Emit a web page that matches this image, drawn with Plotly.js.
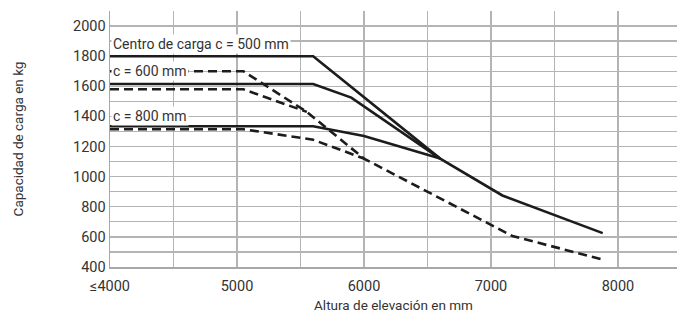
<!DOCTYPE html>
<html>
<head>
<meta charset="utf-8">
<script src="https://cdn.plot.ly/plotly-3.0.1.min.js"></script>
<style>
  html, body { margin: 0; padding: 0; background: #fff; }
  #chart { width: 677px; height: 316px; }
</style>
</head>
<body>
<div id="chart"></div>
<script>
// ---- Data ----
// Solid lines
const solid500X = [4000, 5600, 6600, 7090, 7880];
const solid500Y = [1800, 1800, 1120, 875, 625];

const solid600X = [4000, 5600, 5900, 6600];
const solid600Y = [1615, 1615, 1525, 1120];

const solid800X = [4000, 5600, 6000, 6600];
const solid800Y = [1335, 1335, 1270, 1120];

// Dashed lines (the longest one carries the shared tail; the others stop where they join it)
const dashedAX = [4000, 5050, 5550, 6000, 7170, 7880];
const dashedAY = [1700, 1700, 1430, 1120, 605, 450];

const dashedBX = [4000, 5050, 5550];
const dashedBY = [1580, 1580, 1430];

const dashedCX = [4000, 5050, 5600, 6000];
const dashedCY = [1315, 1315, 1245, 1120];

// Axis ticks
const xTickVals = [4000, 4500, 5000, 5500, 6000, 6500, 7000, 7500, 8000];
const xTickText = ["≤4000", "", "5000", "", "6000", "", "7000", "", "8000"];
const yTickVals = [400, 500, 600, 700, 800, 900, 1000, 1100, 1200, 1300, 1400, 1500, 1600, 1700, 1800, 1900, 2000, 2100];
const yTickText = ["400", "", "600", "", "800", "", "1000", "", "1200", "", "1400", "", "1600", "", "1800", "", "2000", ""];

// Labels
const labelTexts = ["Centro de carga c = 500 mm", "c = 600 mm", "c = 800 mm"];
const labelY = [1878, 1700, 1400];

const lineColor = "#1c1c1c";
const FONT = "Roboto, 'Liberation Sans', sans-serif";

function solid(x, y) {
  return { x: x, y: y, type: "scatter", mode: "lines",
           line: { color: lineColor, width: 2.6 }, hoverinfo: "skip", showlegend: false };
}
function dashed(x, y) {
  return { x: x, y: y, type: "scatter", mode: "lines",
           line: { color: lineColor, width: 2.6, dash: "9px,5px" }, hoverinfo: "skip", showlegend: false };
}

const data = [
  dashed(dashedCX, dashedCY),
  dashed(dashedBX, dashedBY),
  dashed(dashedAX, dashedAY),
  solid(solid800X, solid800Y),
  solid(solid600X, solid600Y),
  solid(solid500X, solid500Y)
];

const annotations = labelTexts.map((t, i) => ({
  xref: "paper", yref: "y", x: 0.002, y: labelY[i],
  xanchor: "left", yanchor: "middle",
  text: t, showarrow: false,
  bgcolor: "#ffffff", borderpad: 1,
  font: { family: FONT, size: 14, color: "#333333" }
}));

const layout = {
  width: 677, height: 316,
  margin: { l: 110, r: 0, t: 11, b: 49 },
  paper_bgcolor: "#ffffff", plot_bgcolor: "#ffffff",
  font: { family: FONT, color: "#333333" },
  xaxis: {
    range: [4000, 8465],
    tickmode: "array", tickvals: xTickVals, ticktext: xTickText,
    showgrid: true, gridcolor: "#b4b4b4", gridwidth: 1.3,
    showline: true, linecolor: "#a8a8a8", linewidth: 1.5,
    zeroline: false, ticks: "outside", ticklen: 5, tickcolor: "rgba(0,0,0,0)",
    tickfont: { family: FONT, size: 14.5, color: "#333333" },
    title: { text: "Altura de elevación en mm", font: { family: FONT, size: 13.5, color: "#333333" }, standoff: 6 },
    fixedrange: true
  },
  yaxis: {
    range: [400, 2100],
    tickmode: "array", tickvals: yTickVals, ticktext: yTickText,
    showgrid: true, gridcolor: "#b4b4b4", gridwidth: 1.3,
    showline: true, linecolor: "#a8a8a8", linewidth: 1.5,
    zeroline: false, ticks: "",
    tickfont: { family: FONT, size: 14.5, color: "#333333" },
    title: { text: "Capacidad de carga en kg", font: { family: FONT, size: 13.5, color: "#333333" }, standoff: 46 },
    fixedrange: true
  },
  annotations: annotations,
  showlegend: false
};

Plotly.newPlot("chart", data, layout, { displayModeBar: false, staticPlot: true });
</script>
</body>
</html>
